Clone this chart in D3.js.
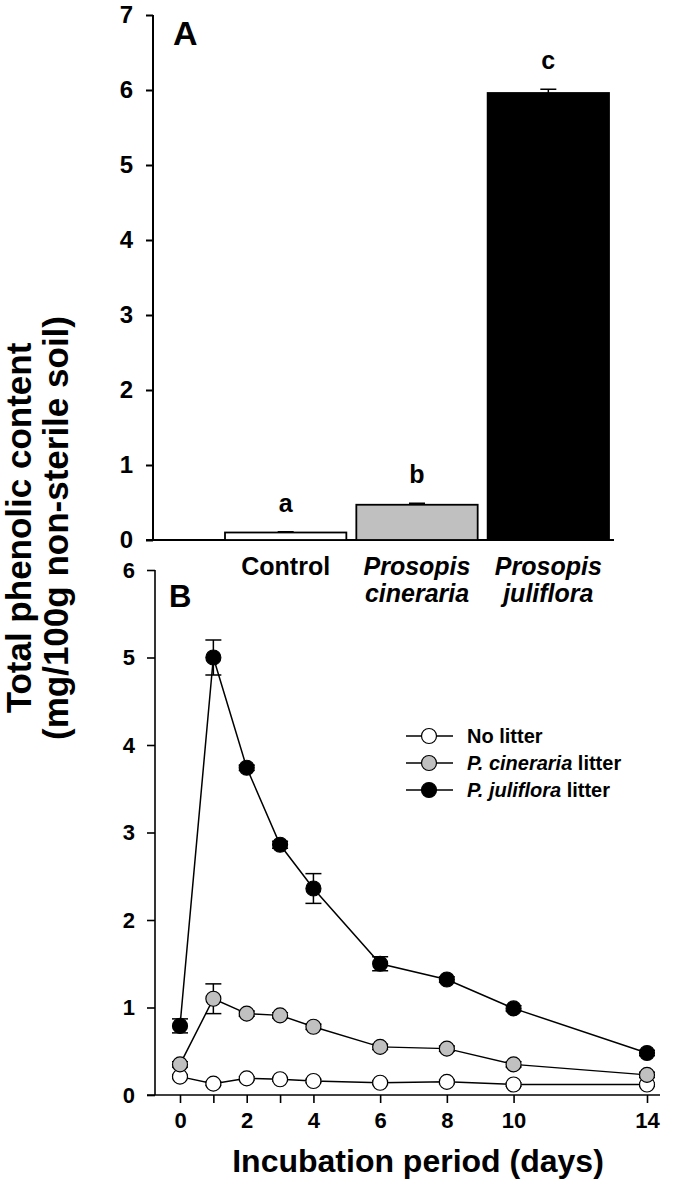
<!DOCTYPE html>
<html>
<head>
<meta charset="utf-8">
<title>phenolic content</title>
<script src="https://cdn.jsdelivr.net/npm/d3@7"></script>
<style>
    body { margin: 0; background: #fff; }
    svg { font-family: "Liberation Sans", Arial, sans-serif; font-weight: bold; }
</style>
</head>
<body>
<svg id="chart" width="688" height="1187"></svg>
<script>
    // panel A
    var catsA = ["Control", "Prosopis cineraria", "Prosopis juliflora"];
    var meanA = [0.10, 0.47, 5.96];
    var seA = [0.01, 0.02, 0.05];
    var letterA = ["a", "b", "c"];
    var fillA = ["#ffffff", "#c0c0c0", "#000000"];
    var ticksA = [0, 1, 2, 3, 4, 5, 6, 7];

    // panel B
    var days = [0, 1, 2, 3, 4, 6, 8, 10, 14];
    var dayLabels = [0, 2, 4, 6, 8, 10, 14];
    var noLitter = [0.21, 0.13, 0.19, 0.18, 0.16, 0.14, 0.15, 0.12, 0.12];
    var noLitterSe = [0.02, 0.02, 0.02, 0.02, 0.02, 0.02, 0.02, 0.02, 0.02];
    var cineraria = [0.35, 1.10, 0.93, 0.91, 0.78, 0.55, 0.53, 0.35, 0.23];
    var cinerariaSe = [0.03, 0.17, 0.03, 0.03, 0.03, 0.03, 0.03, 0.03, 0.03];
    var juliflora = [0.79, 5.00, 3.74, 2.86, 2.36, 1.50, 1.32, 0.99, 0.48];
    var julifloraSe = [0.08, 0.20, 0.03, 0.04, 0.17, 0.08, 0.03, 0.03, 0.03];
    var ticksB = [0, 1, 2, 3, 4, 5, 6];

    var svg = d3.select("#chart");

    // ---------- A ----------
    var yA = d3.scaleLinear().domain([0, 7]).range([540, 15]);
    var xA = d3.scaleBand().domain(catsA).range([225, 609]).paddingInner(0.076).paddingOuter(0);
    var axLeftA = 153;

    var gA = svg.append("g");
    gA.append("g")
        .attr("transform", "translate(" + axLeftA + ",0)")
        .call(d3.axisLeft(yA).tickValues(ticksA).tickSize(7).tickPadding(13).tickFormat(d3.format("d")))
        .call(function(g) {
            g.select(".domain").remove();
            g.selectAll("line").attr("stroke-width", 2);
            g.selectAll("text").attr("font-size", 24).attr("font-family", null).attr("fill", "#000");
        });
    gA.append("line").attr("x1", axLeftA).attr("x2", axLeftA)
        .attr("y1", yA(7)).attr("y2", yA(0)).attr("stroke", "#000").attr("stroke-width", 2);
    gA.append("line").attr("x1", axLeftA - 7).attr("x2", 614)
        .attr("y1", yA(0)).attr("y2", yA(0)).attr("stroke", "#000").attr("stroke-width", 2);

    var bars = gA.selectAll(".bar").data(catsA).enter().append("g");
    bars.append("rect")
        .attr("x", function(d) { return xA(d); })
        .attr("width", xA.bandwidth())
        .attr("y", function(d, i) { return yA(meanA[i]); })
        .attr("height", function(d, i) { return yA(0) - yA(meanA[i]); })
        .attr("fill", function(d, i) { return fillA[i]; })
        .attr("stroke", "#000").attr("stroke-width", 1.8);
    bars.append("line")
        .attr("x1", function(d) { return xA(d) + xA.bandwidth() / 2; })
        .attr("x2", function(d) { return xA(d) + xA.bandwidth() / 2; })
        .attr("y1", function(d, i) { return yA(meanA[i]); })
        .attr("y2", function(d, i) { return yA(meanA[i] + seA[i]); })
        .attr("stroke", "#000").attr("stroke-width", 1.5);
    bars.append("line")
        .attr("x1", function(d) { return xA(d) + xA.bandwidth() / 2 - 8; })
        .attr("x2", function(d) { return xA(d) + xA.bandwidth() / 2 + 8; })
        .attr("y1", function(d, i) { return yA(meanA[i] + seA[i]); })
        .attr("y2", function(d, i) { return yA(meanA[i] + seA[i]); })
        .attr("stroke", "#000").attr("stroke-width", 1.5);
    bars.append("text")
        .attr("x", function(d) { return xA(d) + xA.bandwidth() / 2; })
        .attr("y", function(d, i) { return yA(meanA[i] + seA[i]) - 20; })
        .attr("text-anchor", "middle").attr("font-size", 25)
        .text(function(d, i) { return letterA[i]; });

    // category labels
    var catText = gA.selectAll(".cat").data(catsA).enter().append("text")
        .attr("text-anchor", "middle").attr("font-size", 25)
        .attr("y", 575)
        .attr("font-style", function(d, i) { return i == 0 ? "normal" : "italic"; });
    catText.each(function(d) {
        var words = d.split(" ");
        var t = d3.select(this);
        var cx = xA(d) + xA.bandwidth() / 2;
        words.forEach(function(w, j) {
            t.append("tspan").attr("x", cx).attr("dy", j == 0 ? 0 : 27).text(w);
        });
    });

    gA.append("text").attr("x", 173).attr("y", 45).attr("font-size", 34).text("A");

    // ---------- B ----------
    var yB = d3.scaleLinear().domain([0, 6]).range([1095, 570]);
    var xB = d3.scaleLinear().domain([0, 14]).range([180, 647]);
    var axLeftB = 155;

    var gB = svg.append("g");
    gB.append("g")
        .attr("transform", "translate(" + axLeftB + ",0)")
        .call(d3.axisLeft(yB).tickValues(ticksB).tickSize(8).tickPadding(12).tickFormat(d3.format("d")))
        .call(function(g) {
            g.select(".domain").remove();
            g.selectAll("line").attr("stroke-width", 1.6);
            g.selectAll("text").attr("font-size", 22).attr("font-family", null).attr("fill", "#000");
        });
    gB.append("line").attr("x1", axLeftB).attr("x2", axLeftB)
        .attr("y1", yB(6)).attr("y2", yB(0)).attr("stroke", "#000").attr("stroke-width", 1.6);

    gB.append("g")
        .attr("transform", "translate(0," + yB(0) + ")")
        .call(d3.axisBottom(xB).tickValues(days).tickSize(8).tickPadding(9)
            .tickFormat(function(d) { return dayLabels.indexOf(d) >= 0 ? d : ""; }))
        .call(function(g) {
            g.select(".domain").remove();
            g.selectAll("line").attr("stroke-width", 1.6);
            g.selectAll("text").attr("font-size", 22).attr("font-family", null).attr("fill", "#000");
        });
    gB.append("line").attr("x1", axLeftB - 8).attr("x2", 660)
        .attr("y1", yB(0)).attr("y2", yB(0)).attr("stroke", "#000").attr("stroke-width", 1.6);

    var series = [
        { name: "No litter", vals: noLitter, se: noLitterSe, fill: "#ffffff" },
        { name: "P. cineraria litter", vals: cineraria, se: cinerariaSe, fill: "#c0c0c0" },
        { name: "P. juliflora litter", vals: juliflora, se: julifloraSe, fill: "#000000" }
    ];

    var line = d3.line()
        .x(function(d, i) { return xB(days[i]); })
        .y(function(d) { return yB(d); });

    var sg = gB.selectAll(".series").data(series).enter().append("g");
    sg.append("path")
        .attr("d", function(s) { return line(s.vals); })
        .attr("fill", "none").attr("stroke", "#000").attr("stroke-width", 1.5);
    sg.each(function(s) {
        var g = d3.select(this);
        var pts = s.vals.map(function(v, i) { return { x: days[i], v: v, e: s.se[i] }; });
        var eb = g.selectAll(".eb").data(pts).enter().append("g");
        eb.append("line")
            .attr("x1", function(d) { return xB(d.x); }).attr("x2", function(d) { return xB(d.x); })
            .attr("y1", function(d) { return yB(d.v - d.e); }).attr("y2", function(d) { return yB(d.v + d.e); })
            .attr("stroke", "#000").attr("stroke-width", 1.5);
        [-1, 1].forEach(function(sign) {
            eb.append("line")
                .attr("x1", function(d) { return xB(d.x) - 8; }).attr("x2", function(d) { return xB(d.x) + 8; })
                .attr("y1", function(d) { return yB(d.v + sign * d.e); })
                .attr("y2", function(d) { return yB(d.v + sign * d.e); })
                .attr("stroke", "#000").attr("stroke-width", 1.5);
        });
        g.selectAll("circle").data(pts).enter().append("circle")
            .attr("cx", function(d) { return xB(d.x); })
            .attr("cy", function(d) { return yB(d.v); })
            .attr("r", 7.5)
            .attr("fill", s.fill).attr("stroke", "#000").attr("stroke-width", 1.2);
    });

    // legend
    var leg = gB.selectAll(".leg").data(series).enter().append("g")
        .attr("transform", function(d, i) { return "translate(0," + (736 + i * 27) + ")"; });
    leg.append("line").attr("x1", 406).attr("x2", 453).attr("stroke", "#000").attr("stroke-width", 1.5);
    leg.append("circle").attr("cx", 429).attr("r", 7.5)
        .attr("fill", function(d) { return d.fill; }).attr("stroke", "#000").attr("stroke-width", 1.2);
    leg.each(function(d, i) {
        var t = d3.select(this).append("text").attr("x", 467).attr("y", 7).attr("font-size", 20);
        if (i == 0) {
            t.text(d.name);
        } else {
            var parts = d.name.split(" litter");
            t.append("tspan").attr("font-style", "italic").text(parts[0]);
            t.append("tspan").text(" litter");
        }
    });

    gB.append("text").attr("x", 169).attr("y", 607).attr("font-size", 31).text("B");

    // axis titles
    svg.append("text").attr("x", 418).attr("y", 1172).attr("text-anchor", "middle")
        .attr("font-size", 32).text("Incubation period (days)");
    var yt = svg.append("text").attr("transform", "translate(0,528) rotate(-90)")
        .attr("text-anchor", "middle").attr("font-size", 35);
    yt.append("tspan").attr("x", 0).attr("y", 31).text("Total phenolic content");
    yt.append("tspan").attr("x", 0).attr("y", 68).text("(mg/100g non-sterile soil)");
</script>
</body>
</html>
